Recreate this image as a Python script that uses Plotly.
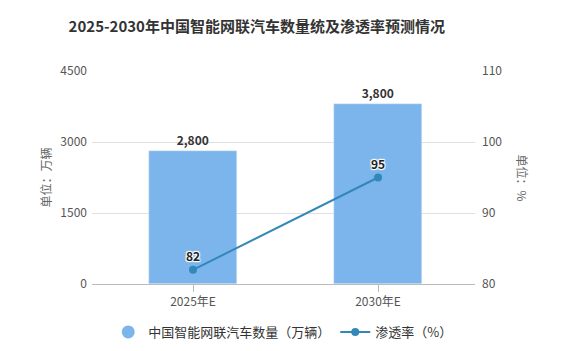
import plotly.graph_objects as go

categories = ["2025年E", "2030年E"]
vehicles = [2800, 3800]
penetration = [82, 95]
bar_name = "中国智能网联汽车数量（万辆）"
line_name = "渗透率（%）"
title_text = "2025-2030年中国智能网联汽车数量统及渗透率预测情况"
left_title = "单位：万辆"
right_title = "单位：%"
left_ticks = [0, 1500, 3000, 4500]
right_ticks = [80, 90, 100, 110]

BAR_COLOR = "#7cb5ec"
LINE_COLOR = "#3288b9"
FONT = "Noto Sans CJK SC, Microsoft YaHei, sans-serif"

x_idx = list(range(len(categories)))

fig = go.Figure()
fig.add_trace(go.Bar(
    x=x_idx, y=vehicles, name=bar_name, marker_color=BAR_COLOR,
    width=0.476, text=[f"{v:,}" for v in vehicles], textposition="outside",
    textfont=dict(family=FONT, size=12, color="#333333", weight="bold"),
    cliponaxis=False, showlegend=False,
))
fig.add_trace(go.Scatter(
    x=x_idx, y=penetration, name=line_name, yaxis="y2",
    mode="lines+markers+text", line=dict(color=LINE_COLOR, width=2),
    marker=dict(color=LINE_COLOR, size=8),
    text=[str(v) for v in penetration], textposition="top center",
    textfont=dict(family=FONT, size=12, color="#222222", weight="bold",
                  shadow="1px 1px 1px #fff, -1px -1px 1px #fff, 1px -1px 1px #fff, -1px 1px 1px #fff"),
    cliponaxis=False, showlegend=False,
))
# legend entries
fig.add_trace(go.Scatter(x=[None], y=[None], name=bar_name, mode="markers",
                         marker=dict(color=BAR_COLOR, size=13, symbol="circle")))
fig.add_trace(go.Scatter(x=[None], y=[None], name=line_name, mode="lines+markers",
                         line=dict(color=LINE_COLOR, width=2),
                         marker=dict(color=LINE_COLOR, size=8), yaxis="y2"))

fig.update_layout(
    width=577, height=351,
    margin=dict(l=92, r=102, t=71, b=67, autoexpand=False),
    paper_bgcolor="white", plot_bgcolor="white",
    font=dict(family=FONT, size=12, color="#666666"),
    title=dict(text=title_text, xref="container", yref="container",
               x=0.445, y=1 - 27 / 351, xanchor="center", yanchor="middle",
               font=dict(family=FONT, size=15, color="#333333", weight="bold")),
    xaxis=dict(tickvals=x_idx, ticktext=categories, range=[-0.546, 1.524],
               showgrid=False, showline=True, linecolor="#bbbbbb", linewidth=1,
               ticks="outside", ticklen=7, tickcolor="#bbbbbb",
               tickfont=dict(size=12, color="#555555"), zeroline=False),
    yaxis=dict(range=[0, 4500], tickvals=left_ticks, showgrid=True,
               gridcolor="#e0e0e0", zeroline=False, showline=False,
               tickfont=dict(size=12, color="#555555"), ticklabelstandoff=4),
    yaxis2=dict(range=[80, 110], tickvals=right_ticks, overlaying="y", side="right",
                showgrid=False, zeroline=False, showline=False,
                tickfont=dict(size=12, color="#555555"), ticklabelstandoff=6),
    legend=dict(orientation="h", xref="container", yref="container",
                x=0.49, xanchor="center", y=1 - 332 / 351, yanchor="middle",
                font=dict(size=13, color="#333333"), itemsizing="trace",
                traceorder="normal", itemwidth=30),
    annotations=[
        dict(text=left_title, xref="paper", yref="paper", x=-47 / 383, y=0.5,
             xanchor="center", yanchor="middle", textangle=-90, showarrow=False,
             font=dict(size=12, color="#666666")),
        dict(text=right_title, xref="paper", yref="paper", x=(522 - 92) / 383, y=0.5,
             xanchor="center", yanchor="middle", textangle=90, showarrow=False,
             font=dict(size=12, color="#666666")),
    ],
    bargap=0,
)

fig.write_html("out.html")
